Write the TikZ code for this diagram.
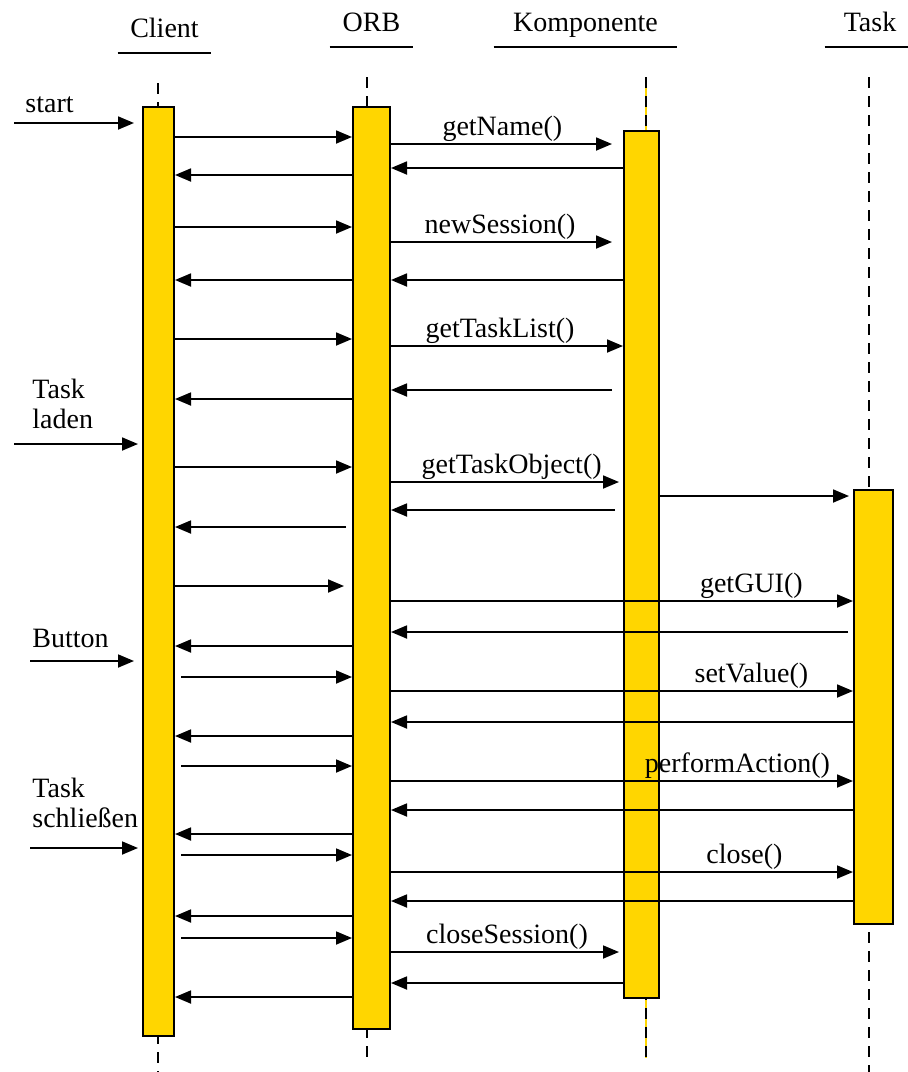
\documentclass[tikz,border=0pt]{standalone}
\usepackage{fontspec}
\setmainfont{Liberation Serif}
\usetikzlibrary{arrows.meta}
\definecolor{barfill}{RGB}{255,214,0}

\begin{document}
\begin{tikzpicture}[x=0.5pt,y=-0.5pt,every node/.style={font=\fontsize{14}{15}\selectfont},
    bar/.style={draw,fill=barfill,line width=1pt,inner sep=0,anchor=north},
    head/.style={anchor=south,inner xsep=0,inner ysep=7.5pt,text depth=0pt},
    life/.style={dash pattern=on 5.5pt off 4pt,line width=0.8pt},
    msg/.style={-{Triangle[length=8pt,width=6.5pt]},line width=0.9pt},
    ext/.style={anchor=west,align=left,inner sep=0},
    lbl/.style={above,inner sep=1pt}]
    \useasboundingbox (0,0) rectangle (907,1072);
    % lifelines
    \draw[life] (158,83) -- (158,1072);
    \draw[life] (367,77) -- (367,1060);
    \draw[barfill,line width=0.8pt] (646,77) -- (646,1058);
    \draw[life] (646,77) -- (646,1058);
    \draw[life] (869,77) -- (869,1072);
    % headers
    \node[head,minimum width=46.5pt] (hclient) at (164.5,53) {Client};
    \node[head,minimum width=41.5pt] (horb) at (371.5,47) {ORB};
    \node[head,minimum width=91.5pt] (hkomp) at (585.5,47) {Komponente};
    \node[head,minimum width=45pt] (htask) at (870,47) {Task};
    \foreach \h in {hclient,horb,hkomp,htask}
      \draw[line width=1pt] (\h.south west) -- (\h.south east);
    % activation bars
    \node[bar,minimum width=15.5pt,minimum height=464.5pt] (cbar) at (158.5,106) {};
    \node[bar,minimum width=18.5pt,minimum height=461pt] (obar) at (371.5,106) {};
    \node[bar,minimum width=17.5pt,minimum height=433.5pt] (kbar) at (641.5,130) {};
    \node[bar,minimum width=19.5pt,minimum height=217pt] (tbar) at (873.5,489) {};
    % user events
    \coordinate (in1) at (14,123);
    \coordinate (in2) at (14,444);
    \coordinate (in3) at (30,661);
    \coordinate (in4) at (30,848);
    \node[ext] (lstart) at (25,105) {start};
    \node[ext] (lladen) at (32,404) {Task\\laden};
    \node[ext] (lbutton) at (32,638) {Button};
    \node[ext] (lclose) at (32,803) {Task\\schließen};
    \draw[msg,shorten >=4pt] (in1) -- (cbar.west |- in1);
    \draw[msg,shorten >=2pt] (in2) -- (cbar.west |- in2);
    \draw[msg,shorten >=4pt] (in3) -- (cbar.west |- in3);
    \draw[msg,shorten >=2pt] (in4) -- (cbar.west |- in4);
    % Client <-> ORB
    \foreach \y in {137,227,339,467}
      \draw[msg] (cbar.east |- 0,\y) -- (obar.west |- 0,\y);
    \foreach \y in {677,766,855,938}
      \draw[msg,shorten <=3pt] (cbar.east |- 0,\y) -- (obar.west |- 0,\y);
    \draw[msg,shorten >=4pt] (cbar.east |- 0,586) -- (obar.west |- 0,586);
    \foreach \y in {175,280,399,646,736,834,916,997}
      \draw[msg] (obar.west |- 0,\y) -- (cbar.east |- 0,\y);
    \draw[msg,shorten <=3pt] (obar.west |- 0,527) -- (cbar.east |- 0,527);
    % ORB <-> Komponente
    \draw[msg,shorten >=5.5pt] (obar.east |- 0,144) -- node[lbl,pos=.48] (lgetname) {getName()} (kbar.west |- 0,144);
    \draw[msg,shorten >=5.5pt] (obar.east |- 0,242) -- node[lbl,pos=.47] (lnewsession) {newSession()} (kbar.west |- 0,242);
    \draw[msg] (obar.east |- 0,346) -- node[lbl,pos=.47] (lgettasklist) {getTaskList()} (kbar.west |- 0,346);
    \draw[msg,shorten >=2pt] (obar.east |- 0,482) -- node[lbl,pos=.52] (lgettaskobj) {getTaskObject()} (kbar.west |- 0,482);
    \draw[msg,shorten >=2pt] (obar.east |- 0,952) -- node[lbl,pos=.5] (lclosesession) {closeSession()} (kbar.west |- 0,952);
    \foreach \y in {168,280,983}
      \draw[msg] (kbar.west |- 0,\y) -- (obar.east |- 0,\y);
    \draw[msg,shorten <=5.5pt] (kbar.west |- 0,390) -- (obar.east |- 0,390);
    \draw[msg,shorten <=4pt] (kbar.west |- 0,510) -- (obar.east |- 0,510);
    % Komponente -> Task
    \draw[msg,shorten >=2pt] (kbar.east |- 0,496) -- (tbar.west |- 0,496);
    % ORB <-> Task
    \draw[msg] (obar.east |- 0,601) -- node[lbl,pos=.78] (lgetgui) {getGUI()} (tbar.west |- 0,601);
    \draw[msg] (obar.east |- 0,691) -- node[lbl,pos=.78] (lsetvalue) {setValue()} (tbar.west |- 0,691);
    \draw[msg] (obar.east |- 0,781) -- node[lbl,pos=.75] (lperform) {performAction()} (tbar.west |- 0,781);
    \draw[msg] (obar.east |- 0,872) -- node[lbl,pos=.765] (ltaskclose) {close()} (tbar.west |- 0,872);
    \draw[msg,shorten <=2.5pt] (tbar.west |- 0,632) -- (obar.east |- 0,632);
    \foreach \y in {722,810,901}
      \draw[msg] (tbar.west |- 0,\y) -- (obar.east |- 0,\y);
  \end{tikzpicture}
\end{document}
